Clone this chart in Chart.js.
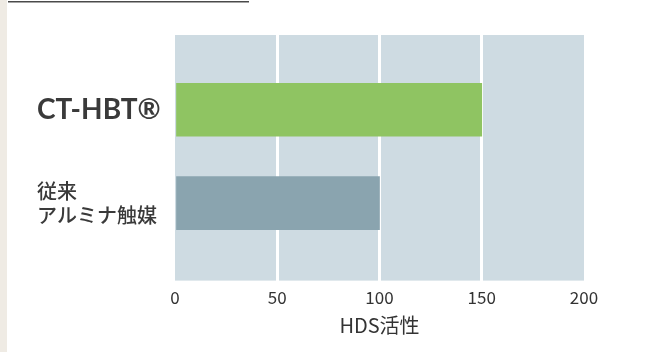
<!DOCTYPE html>
<html><head><meta charset="utf-8">
<script src="https://cdn.jsdelivr.net/npm/chart.js@4/dist/chart.umd.min.js"></script>
<style>html,body{margin:0;padding:0;background:#fff;}#wrap{width:661px;height:352px;position:relative;}</style>
</head><body><div id="wrap"><canvas id="c" width="661" height="352"></canvas></div>
<script>
const categories = [["CT-HBT®"], ["従来", "アルミナ触媒"]];
const positions = [1, 2];
const hdsActivity = [150, 100];
const barColors = ["#8fc462", "#8aa4af"];
const xTicks = [0, 50, 100, 150, 200];
const xTitle = "HDS活性";

const FONT = "'Noto Sans CJK JP', 'Noto Sans', sans-serif";

const deco = {
  id: 'deco',
  beforeDraw(chart) {
    const {ctx, chartArea: a} = chart;
    ctx.save();
    ctx.fillStyle = '#efebe4';
    ctx.fillRect(0, 0, 7, chart.height);
    ctx.fillStyle = '#4a4a4a';
    ctx.fillRect(8, 1, 241, 1.5);
    ctx.fillStyle = '#cedbe2';
    ctx.fillRect(a.left, a.top, a.right - a.left, a.bottom - a.top);
    ctx.restore();
  }
};

new Chart(document.getElementById('c'), {
  type: 'bar',
  data: {
    datasets: [{
      data: positions.map((p, i) => ({x: hdsActivity[i], y: p})),
      backgroundColor: barColors,
      barThickness: 53,
      borderWidth: 0
    }]
  },
  options: {
    indexAxis: 'y',
    responsive: false,
    animation: false,
    layout: {padding: {left: 37, right: 77, top: 35, bottom: 11}},
    plugins: {legend: {display: false}, tooltip: {enabled: false}},
    scales: {
      x: {
        type: 'linear', min: 0, max: 200,
        afterBuildTicks: s => { s.ticks = xTicks.map(v => ({value: v})); },
        grid: {
          color: c => (c.index === 0 || c.index === xTicks.length - 1) ? 'rgba(0,0,0,0)' : '#ffffff',
          lineWidth: 3, drawTicks: false
        },
        border: {display: false},
        ticks: {color: '#333', font: {family: FONT, size: 17}, padding: 7, maxRotation: 0},
        title: {display: true, text: xTitle, color: '#333', font: {family: FONT, size: 20, lineHeight: 1}, padding: {top: 0, bottom: 6}}
      },
      y: {
        type: 'linear', min: 0.2, max: 2.83, reverse: true, offset: false,
        afterBuildTicks: s => { s.ticks = positions.map(v => ({value: v})); },
        afterFit: s => { s.width = 138; },
        grid: {display: false, drawTicks: false, offset: false},
        border: {display: false},
        ticks: {
          color: '#3a3a3a',
          crossAlign: 'far',
          padding: 0,
          callback: (v) => categories[positions.indexOf(v)],
          font: c => c.index === 0 ? {family: "Lato, 'Liberation Sans', sans-serif", size: 28, weight: 'bold'} : {family: FONT, size: 20, weight: '500', lineHeight: 1.2}
        }
      }
    }
  },
  plugins: [deco]
});
</script>
</body></html>
